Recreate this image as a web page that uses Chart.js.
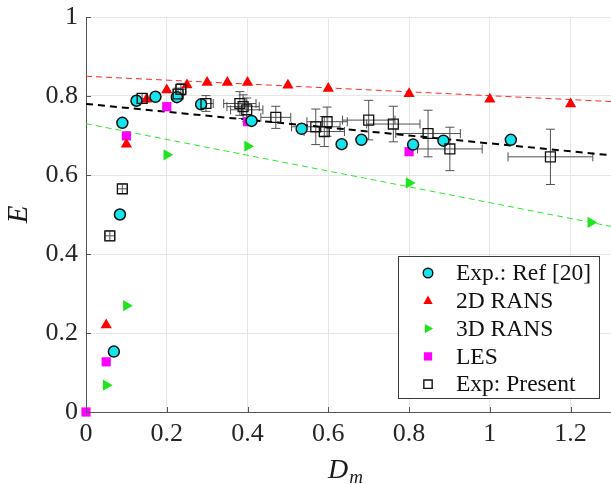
<!DOCTYPE html>
<html lang="en">
<head>
<meta charset="UTF-8">
<title>E vs Dm</title>
<script src="https://cdn.jsdelivr.net/npm/chart.js"></script>
<style>
body { margin: 0; background: #fff; }
#wrap { width: 611px; height: 484px; }
</style>
</head>
<body>
<div id="wrap"><canvas id="effChart" width="611" height="484"></canvas></div>
<script>
// Exp.: Ref [20]
const refDm = [0.069, 0.084, 0.090, 0.125, 0.172, 0.225, 0.285, 0.410, 0.534, 0.633, 0.682, 0.810, 0.885, 1.052];
const refE  = [0.153, 0.500, 0.732, 0.788, 0.798, 0.797, 0.779, 0.737, 0.717, 0.678, 0.689, 0.677, 0.687, 0.689];

// 2D RANS
const rans2dDm = [0.05, 0.10, 0.15, 0.20, 0.25, 0.30, 0.35, 0.40, 0.50, 0.60, 0.80, 1.00, 1.20];
const rans2dE  = [0.220, 0.678, 0.792, 0.815, 0.828, 0.834, 0.834, 0.834, 0.827, 0.819, 0.806, 0.792, 0.780];

// 3D RANS
const rans3dDm = [0.05, 0.10, 0.20, 0.40, 0.80, 1.25];
const rans3dE  = [0.068, 0.269, 0.651, 0.673, 0.580, 0.480];

// LES
const lesDm = [0, 0.05, 0.10, 0.20, 0.40, 0.80];
const lesE  = [0, 0.127, 0.699, 0.773, 0.735, 0.659];

// Exp: Present, with error bars
const presDm    = [0.059, 0.090, 0.139, 0.228, 0.235, 0.297, 0.381, 0.389, 0.398, 0.470, 0.569, 0.590, 0.597, 0.700, 0.761, 0.847, 0.901, 1.150];
const presE     = [0.446, 0.565, 0.794, 0.805, 0.817, 0.781, 0.781, 0.773, 0.765, 0.746, 0.722, 0.710, 0.735, 0.739, 0.729, 0.705, 0.666, 0.646];
const presDmErr = [0.012, 0.012, 0.012, 0.012, 0.012, 0.018, 0.040, 0.040, 0.040, 0.037, 0.060, 0.050, 0.050, 0.065, 0.066, 0.080, 0.080, 0.105];
const presEErr  = [0.012, 0.012, 0.012, 0.015, 0.015, 0.020, 0.030, 0.030, 0.030, 0.028, 0.045, 0.038, 0.037, 0.050, 0.045, 0.059, 0.055, 0.070];

// linear trends
const fitDm   = [0, 1.3];
const fit2dE  = [0.850, 0.786];
const fitExpE = [0.780, 0.650];
const fit3dE  = [0.730, 0.470];

const serif = "'Liberation Serif', 'DejaVu Serif', serif";
const toPts = (xs, ys) => xs.map((v, i) => ({x: v, y: ys[i]}));

// legend entries: label + marker style
const legendItems = [
    {label: 'Exp.: Ref [20]', shape: 'circle', fill: '#14e4ec', stroke: '#111'},
    {label: '2D RANS', shape: 'triUp', fill: '#ff0000'},
    {label: '3D RANS', shape: 'triRight', fill: '#1ee61e'},
    {label: 'LES', shape: 'square', fill: '#ff00ff'},
    {label: 'Exp: Present', shape: 'square', fill: null, stroke: '#111'}
];

function drawMarker(ctx, shape, x, y, s, fill, stroke){
    ctx.beginPath();
    if(shape==='circle'){
        ctx.arc(x, y, s, 0, Math.PI*2);
    } else if(shape==='triUp'){
        ctx.moveTo(x, y-s); ctx.lineTo(x+s*0.9, y+s*0.6); ctx.lineTo(x-s*0.9, y+s*0.6); ctx.closePath();
    } else if(shape==='triRight'){
        ctx.moveTo(x+s, y); ctx.lineTo(x-s*0.6, y+s*0.9); ctx.lineTo(x-s*0.6, y-s*0.9); ctx.closePath();
    } else {
        ctx.rect(x-s*0.8, y-s*0.8, s*1.6, s*1.6);
    }
    if(fill){ ctx.fillStyle=fill; ctx.fill(); }
    if(stroke){ ctx.strokeStyle=stroke; ctx.lineWidth=1.4; ctx.stroke(); }
}

const errorBars = {
    id: 'errorBars',
    beforeDatasetsDraw(chart){
        const {ctx, scales:{x, y}} = chart;
        const cap = 4.5;
        ctx.save();
        ctx.strokeStyle = '#505050';
        ctx.lineWidth = 1;
        presDm.forEach((d, i) => {
            const px = x.getPixelForValue(d), py = y.getPixelForValue(presE[i]);
            const x0 = x.getPixelForValue(d - presDmErr[i]), x1 = x.getPixelForValue(d + presDmErr[i]);
            const y0 = y.getPixelForValue(presE[i] - presEErr[i]), y1 = y.getPixelForValue(presE[i] + presEErr[i]);
            ctx.beginPath();
            ctx.moveTo(x0, py); ctx.lineTo(x1, py);
            ctx.moveTo(x0, py-cap); ctx.lineTo(x0, py+cap);
            ctx.moveTo(x1, py-cap); ctx.lineTo(x1, py+cap);
            ctx.moveTo(px, y0); ctx.lineTo(px, y1);
            ctx.moveTo(px-cap, y0); ctx.lineTo(px+cap, y0);
            ctx.moveTo(px-cap, y1); ctx.lineTo(px+cap, y1);
            ctx.stroke();
        });
        ctx.restore();
    }
};

const decorations = {
    id: 'decorations',
    afterDraw(chart){
        const {ctx, chartArea:a, scales:{x, y}} = chart;
        ctx.save();
        // inward tick marks
        ctx.strokeStyle = '#555';
        ctx.lineWidth = 1;
        ctx.beginPath();
        x.ticks.forEach(t => {
            const px = Math.round(x.getPixelForValue(t.value)) + 0.5;
            ctx.moveTo(px, a.bottom); ctx.lineTo(px, a.bottom-5);
        });
        y.ticks.forEach(t => {
            const py = Math.round(y.getPixelForValue(t.value)) + 0.5;
            ctx.moveTo(a.left, py); ctx.lineTo(a.left+5, py);
        });
        ctx.stroke();

        // axis titles
        ctx.fillStyle = '#1a1a1a';
        ctx.textBaseline = 'alphabetic';
        ctx.font = 'italic 28px ' + serif;
        const wD = ctx.measureText('D').width;
        ctx.font = 'italic 19px ' + serif;
        const wm = ctx.measureText('m').width;
        const sx = 345 - (wD + wm)/2;
        ctx.font = 'italic 28px ' + serif;
        ctx.textAlign = 'left';
        ctx.fillText('D', sx, 478);
        ctx.font = 'italic 19px ' + serif;
        ctx.fillText('m', sx + wD + 1, 483);

        ctx.save();
        ctx.translate(27, (a.top + a.bottom)/2);
        ctx.rotate(-Math.PI/2);
        ctx.font = 'italic 29px ' + serif;
        ctx.textAlign = 'center';
        ctx.fillText('E', 0, 0);
        ctx.restore();

        // legend box
        const bx = 398.5, by = 256.5, bw = 201, bh = 142;
        ctx.fillStyle = '#fff';
        ctx.fillRect(bx, by, bw, bh);
        ctx.strokeStyle = '#3a3a3a';
        ctx.strokeRect(bx, by, bw, bh);
        ctx.font = '23.5px ' + serif;
        ctx.textAlign = 'left';
        ctx.textBaseline = 'middle';
        legendItems.forEach((it, i) => {
            const ly = 273 + i*27.8;
            drawMarker(ctx, it.shape, 428, ly, it.shape==='circle' ? 4.8 : 5.2, it.fill, it.stroke);
            ctx.fillStyle = '#111';
            ctx.fillText(it.label, 456, ly + 1);
        });
        ctx.restore();
    }
};

const tickFont = {family: serif, size: 26};

new Chart(document.getElementById('effChart'), {
    type: 'scatter',
    data: {
        datasets: [
            {label: 'Exp: Present', data: toPts(presDm, presE), pointStyle: 'rect', pointRadius: 7,
             backgroundColor: 'rgba(0,0,0,0)', borderColor: '#111', borderWidth: 1.3, clip: false},
            {label: 'Exp.: Ref [20]', data: toPts(refDm, refE), pointStyle: 'circle', pointRadius: 5.5,
             backgroundColor: '#14e4ec', borderColor: '#111', borderWidth: 1.5, clip: false},
            {label: '3D RANS', data: toPts(rans3dDm, rans3dE), pointStyle: 'triangle', rotation: 90, pointRadius: 6.5,
             backgroundColor: '#1ee61e', borderWidth: 0, clip: false},
            {label: '2D RANS', data: toPts(rans2dDm, rans2dE), pointStyle: 'triangle', pointRadius: 6.5,
             backgroundColor: '#ff0000', borderWidth: 0, clip: false},
            {label: 'LES', data: toPts(lesDm, lesE), pointStyle: 'rect', pointRadius: 6.5,
             backgroundColor: '#ff00ff', borderWidth: 0, clip: false},
            {label: 'fit exp', data: toPts(fitDm, fitExpE), showLine: true, pointRadius: 0,
             borderColor: '#000', borderWidth: 2, borderDash: [7, 5]},
            {label: 'fit 3d', data: toPts(fitDm, fit3dE), showLine: true, pointRadius: 0,
             borderColor: '#2ee62e', borderWidth: 1, borderDash: [6, 4]},
            {label: 'fit 2d', data: toPts(fitDm, fit2dE), showLine: true, pointRadius: 0,
             borderColor: '#ff2a2a', borderWidth: 1, borderDash: [6, 4]}
        ]
    },
    options: {
        responsive: false,
        animation: false,
        layout: {autoPadding: false, padding: {top: 17, right: 0, left: 0, bottom: 0}},
        plugins: {legend: {display: false}, tooltip: {enabled: false}},
        scales: {
            x: {
                type: 'linear', min: 0, max: 1.3,
                ticks: {stepSize: 0.2, includeBounds: false, padding: 7, color: '#262626', font: tickFont, maxRotation: 0,
                        callback: v => String(Math.round(v*10)/10)},
                grid: {color: '#e6e6e6', drawTicks: false},
                border: {color: '#555', width: 1},
                afterFit(s){ s.height = 72; s.paddingLeft = 0; s.paddingRight = 0; }
            },
            y: {
                type: 'linear', min: 0, max: 1,
                ticks: {stepSize: 0.2, padding: 8, color: '#262626', font: tickFont,
                        callback: v => String(Math.round(v*10)/10)},
                grid: {color: '#e6e6e6', drawTicks: false},
                border: {color: '#555', width: 1},
                afterFit(s){ s.width = 86; s.paddingTop = 0; s.paddingBottom = 0; }
            }
        }
    },
    plugins: [errorBars, decorations]
});
</script>
</body>
</html>
